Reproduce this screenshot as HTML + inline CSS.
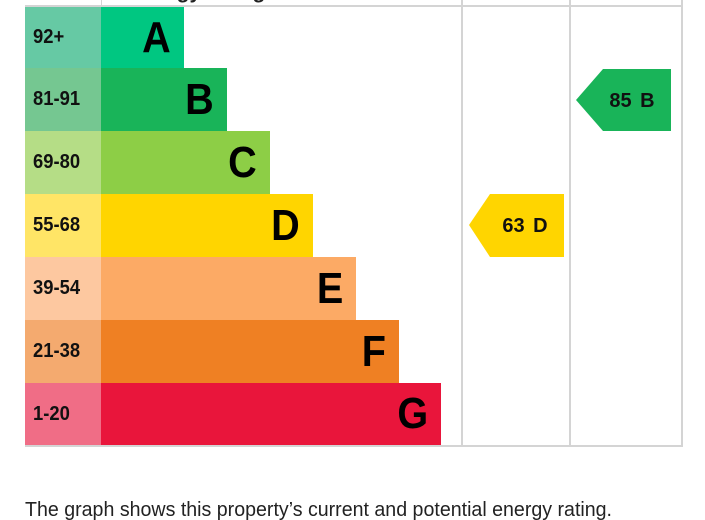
<!DOCTYPE html>
<html><head><style>
body{margin:0;width:705px;height:520px;background:#fff;overflow:hidden;position:relative;font-family:"Liberation Sans",Arial,sans-serif}
.a{position:absolute}
.lab{position:absolute;left:25px;width:76px;font-size:20px;font-weight:bold;color:#111;padding-left:8px;box-sizing:border-box;display:flex;align-items:center}
.lab span{display:inline-block;transform:scaleX(0.92);transform-origin:left center}
.bar{position:absolute;left:101px;font-size:44px;font-weight:bold;color:#000;display:flex;align-items:center;justify-content:flex-end;padding-right:13px;box-sizing:border-box}
.bar span{display:inline-block;transform:scaleX(0.9);transform-origin:right center}
</style></head><body>
<div class="a" style="left:25px;top:5px;width:657px;height:2px;background:#d4d4d4"></div>
<div class="a" style="left:25px;top:445px;width:657px;height:2px;background:#d4d4d4"></div>
<div class="a" style="left:461px;top:0;width:2px;height:447px;background:#d4d4d4"></div>
<div class="a" style="left:569px;top:0;width:2px;height:447px;background:#d4d4d4"></div>
<div class="a" style="left:681px;top:0;width:2px;height:447px;background:#d4d4d4"></div>
<div class="a" style="left:101px;top:0;width:1px;height:6px;background:#d4d4d4"></div>
<div class="a" style="left:130px;top:-20px;font-size:21px;font-weight:bold;color:#222">Energy rating</div>

<div class="lab" style="top:7px;height:61px;background:#66c9a4"><span>92+</span></div>
<div class="bar" style="top:7px;height:61px;width:83px;background:#00c781"><span>A</span></div>
<div class="lab" style="top:68px;height:63px;background:#75c791"><span>81-91</span></div>
<div class="bar" style="top:68px;height:63px;width:126px;background:#19b459"><span>B</span></div>
<div class="lab" style="top:131px;height:63px;background:#b5dd86"><span>69-80</span></div>
<div class="bar" style="top:131px;height:63px;width:169px;background:#8dce46"><span>C</span></div>
<div class="lab" style="top:194px;height:63px;background:#ffe566"><span>55-68</span></div>
<div class="bar" style="top:194px;height:63px;width:212px;background:#ffd500"><span>D</span></div>
<div class="lab" style="top:257px;height:63px;background:#fdc8a0"><span>39-54</span></div>
<div class="bar" style="top:257px;height:63px;width:255px;background:#fcaa65"><span>E</span></div>
<div class="lab" style="top:320px;height:63px;background:#f4aa6f"><span>21-38</span></div>
<div class="bar" style="top:320px;height:63px;width:298px;background:#ef8023"><span>F</span></div>
<div class="lab" style="top:383px;height:62px;background:#f06d86"><span>1-20</span></div>
<div class="bar" style="top:383px;height:62px;width:340px;background:#e9153b"><span>G</span></div>

<svg class="a" style="left:0;top:0" width="705" height="520">
<polygon points="576,100 603,69 671,69 671,131 603,131" fill="#19b459"/>
<text x="632" y="107" font-size="20" font-weight="bold" text-anchor="middle" font-family="Liberation Sans,Arial,sans-serif" fill="#111" word-spacing="3">85 B</text>
<polygon points="469,225 490,194 564,194 564,257 490,257" fill="#ffd500"/>
<text x="525" y="232" font-size="20" font-weight="bold" text-anchor="middle" font-family="Liberation Sans,Arial,sans-serif" fill="#111" word-spacing="3">63 D</text>
<text x="25" y="516" font-size="20" font-family="Liberation Sans,Arial,sans-serif" fill="#222" textLength="587" lengthAdjust="spacingAndGlyphs">The graph shows this property’s current and potential energy rating.</text>
</svg>
</body></html>
